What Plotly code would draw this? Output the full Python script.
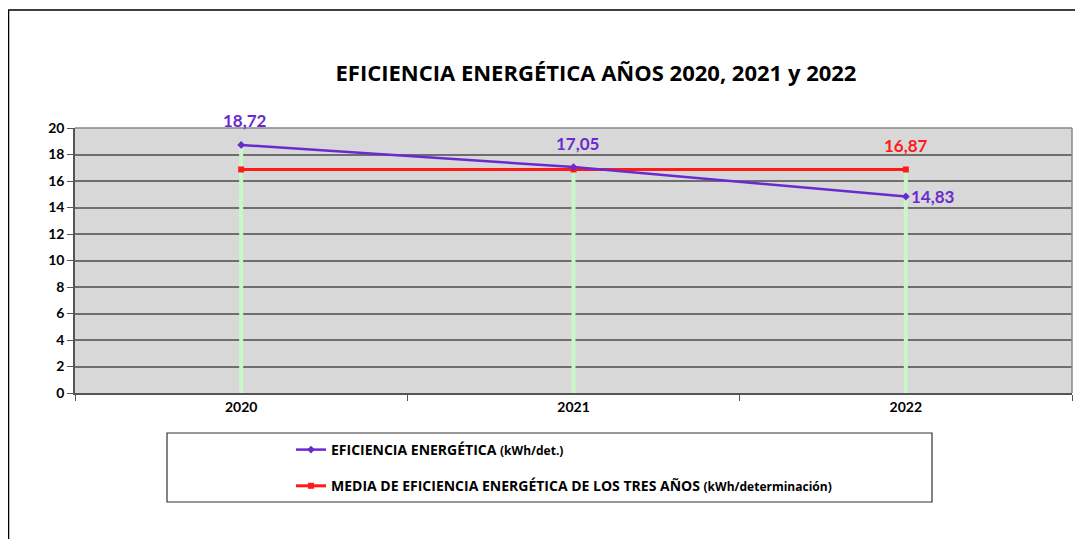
import plotly.graph_objects as go

years = ["2020", "2021", "2022"]
eficiencia = [18.72, 17.05, 14.83]
media = [16.87, 16.87, 16.87]
eficiencia_labels = ["18,72", "17,05", "14,83"]
media_labels = ["", "", "16,87"]
y_ticks = [0, 2, 4, 6, 8, 10, 12, 14, 16, 18, 20]

PURPLE = "#6a2ad0"
RED = "#ff1a1a"
FONT = "Lato"
WFONT = "Open Sans"

# page body has an 8px margin, so the figure is laid out in shifted coordinates
W, H = 1075, 531
L, T, R, B = 67, 120, 11, 146
PW, PH = W - L - R, H - T - B

fig = go.Figure()

# light green drop lines from the highest point down to the axis
drop_x, drop_y = [], []
for yr, a, b in zip(years, eficiencia, media):
    drop_x += [yr, yr, None]
    drop_y += [0, max(a, b) - 0.25, None]
fig.add_trace(go.Scatter(x=drop_x, y=drop_y, mode="lines",
                         line=dict(color="#c8f7c8", width=4),
                         showlegend=False, hoverinfo="skip"))

fig.add_trace(go.Scatter(
    x=years, y=media, mode="lines+markers",
    name="MEDIA DE EFICIENCIA ENERGÉTICA DE LOS TRES AÑOS <span style='font-size:12px'>(kWh/determinación)</span>",
    line=dict(color=RED, width=3), marker=dict(symbol="square", size=6, color=RED),
    legendgroup="b", legendrank=2))

fig.add_trace(go.Scatter(
    x=years, y=eficiencia, mode="lines+markers",
    name="EFICIENCIA ENERGÉTICA <span style='font-size:12px'>(kWh/det.)</span>",
    line=dict(color=PURPLE, width=2.5), marker=dict(symbol="diamond", size=6, color=PURPLE),
    legendgroup="a", legendrank=1))

# data labels (x given as category index)
n = len(years)
for i, (v, lab) in enumerate(zip(eficiencia, eficiencia_labels)):
    last = i == n - 1
    fig.add_annotation(x=i, y=v, xref="x", yref="y", text=lab, showarrow=False,
                       xanchor="left" if last else "center",
                       xshift=3 if last else 4, yshift=0 if last else 24,
                       font=dict(family=FONT, size=17, color=PURPLE, weight="bold"))
for i, (v, lab) in enumerate(zip(media, media_labels)):
    if lab:
        fig.add_annotation(x=i, y=v, xref="x", yref="y", text=lab, showarrow=False,
                           yshift=24,
                           font=dict(family=FONT, size=17, color=RED, weight="bold"))

# outer chart border and legend border
fig.add_shape(type="rect", xref="paper", yref="paper",
              x0=(-L + 0.5) / PW, x1=(PW + R + 20) / PW,
              y0=-(B + 20) / PH, y1=(PH + T - 2) / PH,
              line=dict(color="black", width=1.5), layer="below")
fig.add_shape(type="rect", xref="paper", yref="paper",
              x0=(167 - 75) / PW, x1=(932 - 75) / PW,
              y0=(393 - 502) / PH, y1=(393 - 433) / PH,
              line=dict(color="#333333", width=1.2))

fig.update_layout(
    width=W, height=H,
    margin=dict(l=L, r=R, t=T, b=B),
    paper_bgcolor="white", plot_bgcolor="#d8d8d8",
    font=dict(family=FONT, color="black"),
    title=dict(text="<b>EFICIENCIA ENERGÉTICA AÑOS 2020, 2021 y 2022</b>",
               x=(596 - 8) / W, xanchor="center", y=1 - (73 - 8) / H, yanchor="middle",
               font=dict(family=WFONT, size=22, color="black")),
    legend=dict(x=(291 - 75) / PW, xanchor="left", y=(393 - 434) / PH, yanchor="top",
                bgcolor="rgba(0,0,0,0)", borderwidth=0, tracegroupgap=15,
                font=dict(family=WFONT, size=14, color="black", weight="bold"),
                traceorder="grouped"),
    showlegend=True,
)

fig.update_xaxes(type="category", categoryorder="array", categoryarray=years,
                 range=[-0.5, 2.5], showgrid=False, tickson="boundaries",
                 ticks="outside", ticklen=6, tickcolor="#555555",
                 showline=True, linecolor="#555555", linewidth=1.5, mirror=False,
                 tickfont=dict(family=FONT, size=14, color="black", weight="bold"))
fig.update_yaxes(range=[0, 20], tickvals=y_ticks, showgrid=True,
                 gridcolor="#6e6e6e", gridwidth=1.5, zeroline=False,
                 ticks="outside", ticklen=6, tickcolor="#555555",
                 showline=True, linecolor="#555555", linewidth=1.5,
                 tickfont=dict(family=FONT, size=14, color="black", weight="bold"))

fig.add_shape(type="line", xref="paper", yref="paper", x0=1, x1=1, y0=0, y1=1,
              line=dict(color="#888888", width=1.5))
fig.add_shape(type="line", xref="paper", yref="paper", x0=0, x1=1, y0=1, y1=1,
              line=dict(color="#888888", width=1.5))

fig.write_html("out.html")
